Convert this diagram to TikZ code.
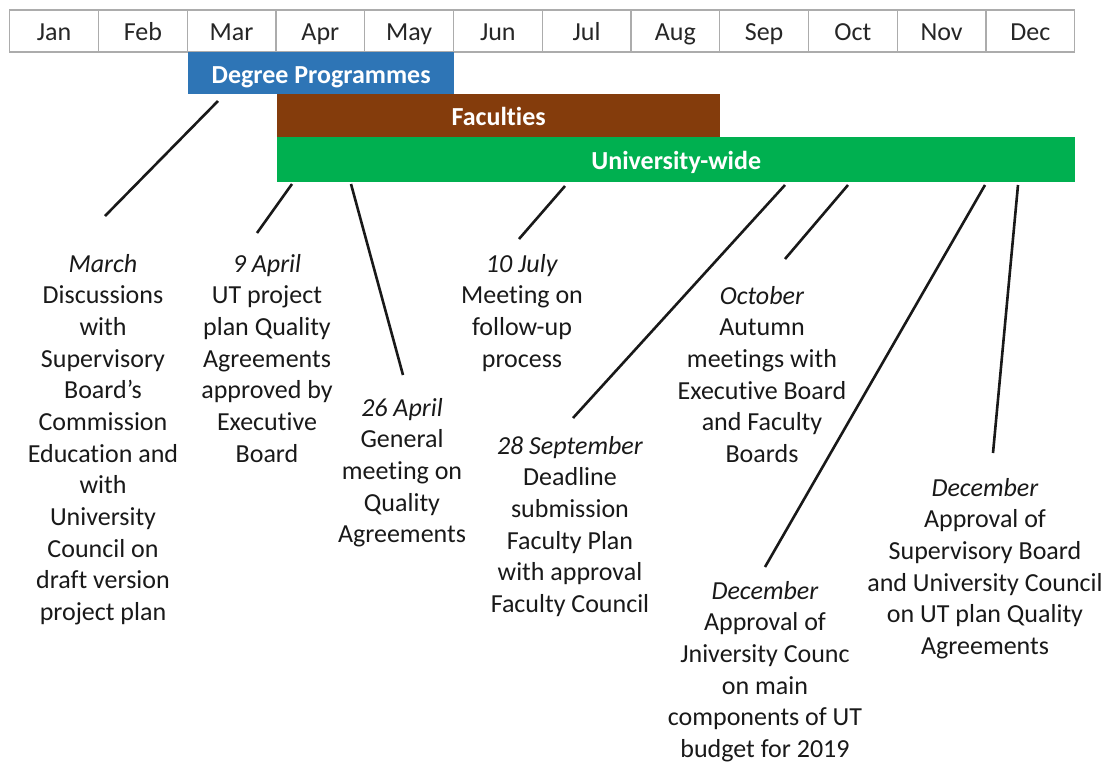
\documentclass[tikz,border=0pt]{standalone}
\usepackage{fontspec}
\setmainfont{Carlito}[Ligatures=NoCommon]
\usetikzlibrary{positioning}
\definecolor{dpblue}{HTML}{2E75B6}
\definecolor{facbrown}{HTML}{843C0C}
\definecolor{uwgreen}{HTML}{00B050}

\begin{document}
\begin{tikzpicture}[x=1pt,y=-1pt,node distance=88.75pt,on grid,font=\fontsize{26}{31.67}\selectfont]
	\useasboundingbox (0,0) rectangle (1106,764);
	\tikzset{month/.style={draw=gray!65,line width=1.2pt,minimum width=88.75pt,minimum height=42pt,inner sep=0pt,text height=19pt,text depth=0pt,text=black!85}}
	\tikzset{bar/.style={anchor=north west,inner sep=0pt,text height=20pt,text depth=0pt,text=white,font=\fontsize{26}{31.67}\selectfont\bfseries}}
	\tikzset{event/.style={anchor=north,align=center,inner sep=0pt,text=black!90,execute at begin node=\strut}}
	\tikzset{leader/.style={line width=2.6pt,black!90}}

	% months
	\node[month] (jan) at (54.1,31) {Jan};
	\node[month] (feb) [right =of jan] {Feb};
	\node[month] (mar) [right =of feb] {Mar};
	\node[month] (apr) [right =of mar] {Apr};
	\node[month] (may) [right =of apr] {May};
	\node[month] (jun) [right =of may] {Jun};
	\node[month] (jul) [right =of jun] {Jul};
	\node[month] (aug) [right =of jul] {Aug};
	\node[month] (sep) [right =of aug] {Sep};
	\node[month] (oct) [right =of sep] {Oct};
	\node[month] (nov) [right =of oct] {Nov};
	\node[month] (dec) [right =of nov] {Dec};

	% bars
	\node[bar,fill=dpblue,minimum width=266pt,minimum height=42pt] (dp) at (188,52) {Degree Programmes};
	\node[bar,fill=facbrown,minimum width=443pt,minimum height=43pt] (fac) at (277,94) {Faculties};
	\node[bar,fill=uwgreen,minimum width=798pt,minimum height=45pt] (uw) at (277,137) {University-wide};

	% events
	\node[event] (E1) at (103,254) {\textit{March}\\Discussions\\with\\Supervisory\\Board’s\\Commission\\Education and\\with\\University\\Council on\\draft version\\project plan};
	\node[event] (E2) at (267,254) {\textit{9 April}\\UT project\\plan Quality\\Agreements\\approved by\\Executive\\Board};
	\node[event] (E3) at (402,398) {\textit{26 April}\\General\\meeting on\\Quality\\Agreements};
	\node[event] (E4) at (522,254) {\textit{10 July}\\Meeting on\\follow-up\\process};
	\node[event] (E5) at (570,436) {\textit{28 September}\\Deadline\\submission\\Faculty Plan\\with approval\\Faculty Council};
	\node[event] (E6) at (762,286) {\textit{October}\\Autumn\\meetings with\\Executive Board\\and Faculty\\Boards};
	\node[event] (E7) at (765,581) {\textit{December}\\Approval of\\Jniversity Counc\\on main\\components of UT\\budget for 2019};
	\node[event] (E8) at (985,478) {\textit{December}\\Approval of\\Supervisory Board\\and University Council\\on UT plan Quality\\Agreements};

	% leader ends
	\coordinate (a1) at (218,101);  \coordinate (b1) at (105,216);
	\coordinate (a2) at (292,184);  \coordinate (b2) at (257,233);
	\coordinate (a3) at (351,184);  \coordinate (b3) at (403,375);
	\coordinate (a4) at (565,186);  \coordinate (b4) at (519,239);
	\coordinate (a5) at (785,185);  \coordinate (b5) at (573,418);
	\coordinate (a6) at (848,185);  \coordinate (b6) at (785,259);
	\coordinate (a7) at (985,185);  \coordinate (b7) at (765,567);
	\coordinate (a8) at (1018,185); \coordinate (b8) at (993,453);

	\path (a1) edge [leader] (b1);
	\path (a2) edge [leader] (b2);
	\path (a3) edge [leader] (b3);
	\path (a4) edge [leader] (b4);
	\path (a5) edge [leader] (b5);
	\path (a6) edge [leader] (b6);
	\path (a7) edge [leader] (b7);
	\path (a8) edge [leader] (b8);
\end{tikzpicture}
\end{document}
